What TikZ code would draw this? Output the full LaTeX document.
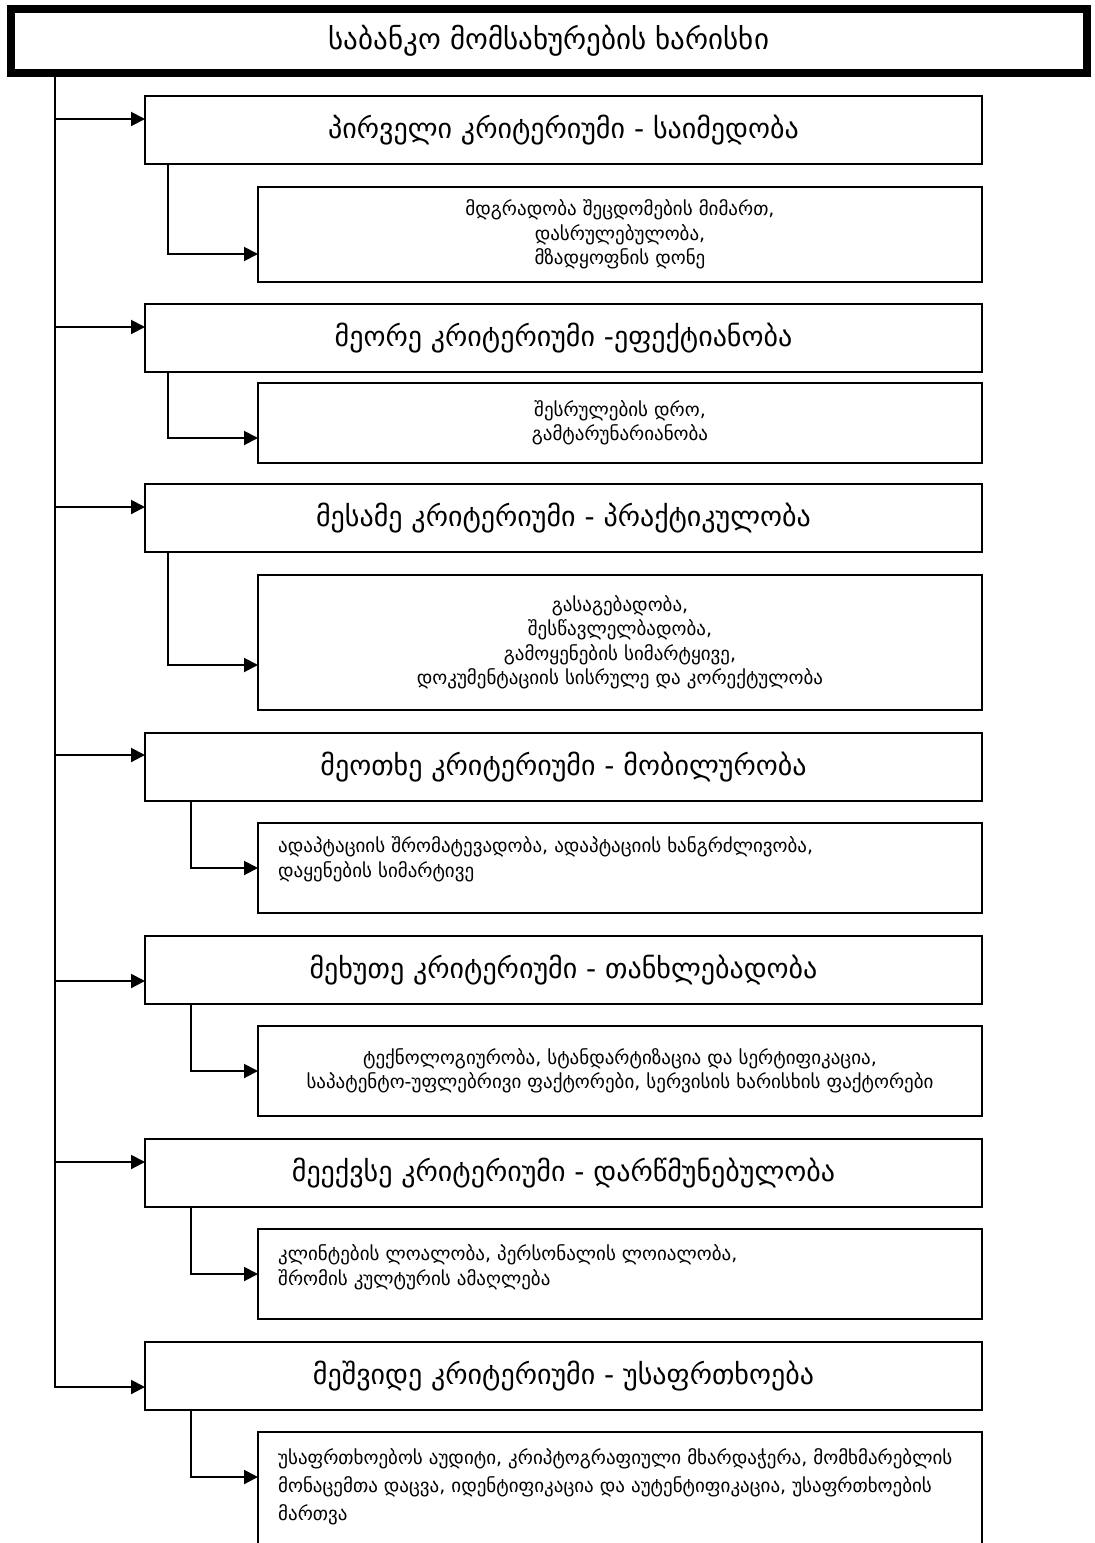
\documentclass[tikz,border=0pt]{standalone}
\usepackage{fontspec}
\setmainfont{DejaVu Sans}
\usetikzlibrary{arrows.meta}
\begin{document}
\begin{tikzpicture}[x=1pt,y=-1pt,
  frame/.style={draw, line width=2pt, inner sep=0pt, outer sep=0pt, anchor=north west},
  critbox/.style={frame, minimum width=837pt, minimum height=68pt,
    font=\fontsize{28}{32}\selectfont},
  subbox/.style={frame, minimum width=724pt, align=center,
    font=\fontsize{19}{24.5}\selectfont},
  subtext/.style={anchor=north west, inner sep=0pt, align=left,
    font=\fontsize{19}{25.5}\selectfont},
  wire/.style={line width=2pt},
  arr/.style={wire, -{Triangle[length=14pt,width=14pt]}},
]
\useasboundingbox (0,0) rectangle (1095,1543);
\clip (0,0) rectangle (1095,1543);

% heading
\node[draw, line width=8pt, inner sep=0pt, outer sep=0pt, anchor=north west,
  minimum width=1076pt, minimum height=64pt, font=\fontsize{29}{32}\selectfont]
  (title) at (11,9) {საბანკო მომსახურების ხარისხი};

% criteria
\node[critbox] (c1) at (145,96)   {პირველი კრიტერიუმი - საიმედობა};
\node[critbox] (c2) at (145,304)  {მეორე კრიტერიუმი -ეფექტიანობა};
\node[critbox] (c3) at (145,484)  {მესამე კრიტერიუმი - პრაქტიკულობა};
\node[critbox] (c4) at (145,733)  {მეოთხე კრიტერიუმი - მობილურობა};
\node[critbox] (c5) at (145,936)  {მეხუთე კრიტერიუმი - თანხლებადობა};
\node[critbox] (c6) at (145,1139) {მეექვსე კრიტერიუმი - დარწმუნებულობა};
\node[critbox] (c7) at (145,1342) {მეშვიდე კრიტერიუმი - უსაფრთხოება};

% details
\node[subbox, minimum height=95pt] (s1) at (258,187)
  {მდგრადობა შეცდომების მიმართ,\\ დასრულებულობა,\\ მზადყოფნის დონე};
\node[subbox, minimum height=80pt] (s2) at (258,383)
  {შესრულების დრო,\\ გამტარუნარიანობა};
\node[subbox, minimum height=135pt] (s3) at (258,575)
  {გასაგებადობა,\\ შესწავლელბადობა,\\ გამოყენების სიმარტყივე,\\ დოკუმენტაციის სისრულე და კორექტულობა};
\node[subbox, minimum height=90pt] (s4) at (258,823) {};
\node[subtext] (s4t) at (278,836)
  {ადაპტაციის შრომატევადობა, ადაპტაციის ხანგრძლივობა,\\ დაყენების სიმარტივე};
\node[subbox, minimum height=90pt] (s5) at (258,1026)
  {ტექნოლოგიურობა, სტანდარტიზაცია და სერტიფიკაცია,\\ საპატენტო-უფლებრივი ფაქტორები, სერვისის ხარისხის ფაქტორები};
\node[subbox, minimum height=90pt] (s6) at (258,1229) {};
\node[subtext] (s6t) at (278,1244)
  {კლინტების ლოალობა, პერსონალის ლოიალობა,\\ შრომის კულტურის ამაღლება};
\node[subbox, minimum height=160pt] (s7) at (258,1432) {};
\node[subtext, font=\fontsize{19}{28}\selectfont] (s7t) at (278,1448)
  {უსაფრთხოებოს აუდიტი, კრიპტოგრაფიული მხარდაჭერა, მომხმარებლის\\ მონაცემთა დაცვა, იდენტიფიკაცია და აუტენტიფიკაცია, უსაფრთხოების\\ მართვა};

% arrow entry points on the criteria
\coordinate (trunktop) at (55,76);
\coordinate (a1) at ([yshift=-23pt]c1.north west);
\coordinate (a2) at ([yshift=-23pt]c2.north west);
\coordinate (a3) at ([yshift=-23pt]c3.north west);
\coordinate (a4) at ([yshift=-22pt]c4.north west);
\coordinate (a5) at ([yshift=-45pt]c5.north west);
\coordinate (a6) at ([yshift=-23pt]c6.north west);
\coordinate (a7) at ([yshift=-45pt]c7.north west);

% arrow entry points on the details
\coordinate (b1) at ([yshift=-67pt]s1.north west);
\coordinate (b2) at ([yshift=-55pt]s2.north west);
\coordinate (b3) at ([yshift=-90pt]s3.north west);
\coordinate (b4) at ([yshift=-45pt]s4.north west);
\coordinate (b5) at ([yshift=-45pt]s5.north west);
\coordinate (b6) at ([yshift=-45pt]s6.north west);
\coordinate (b7) at ([yshift=-45pt]s7.north west);

% trunk and branches
\draw[arr] (trunktop) -- (trunktop |- a7) -- (a7);
\foreach \i in {1,...,6} \draw[arr] (trunktop |- a\i) -- (a\i);

% criterion to detail connectors
\foreach \i in {1,2,3} \draw[arr] ([xshift=23pt]c\i.south west) |- (b\i);
\foreach \i in {4,5,6,7} \draw[arr] ([xshift=46pt]c\i.south west) |- (b\i);
\end{tikzpicture}
\end{document}
